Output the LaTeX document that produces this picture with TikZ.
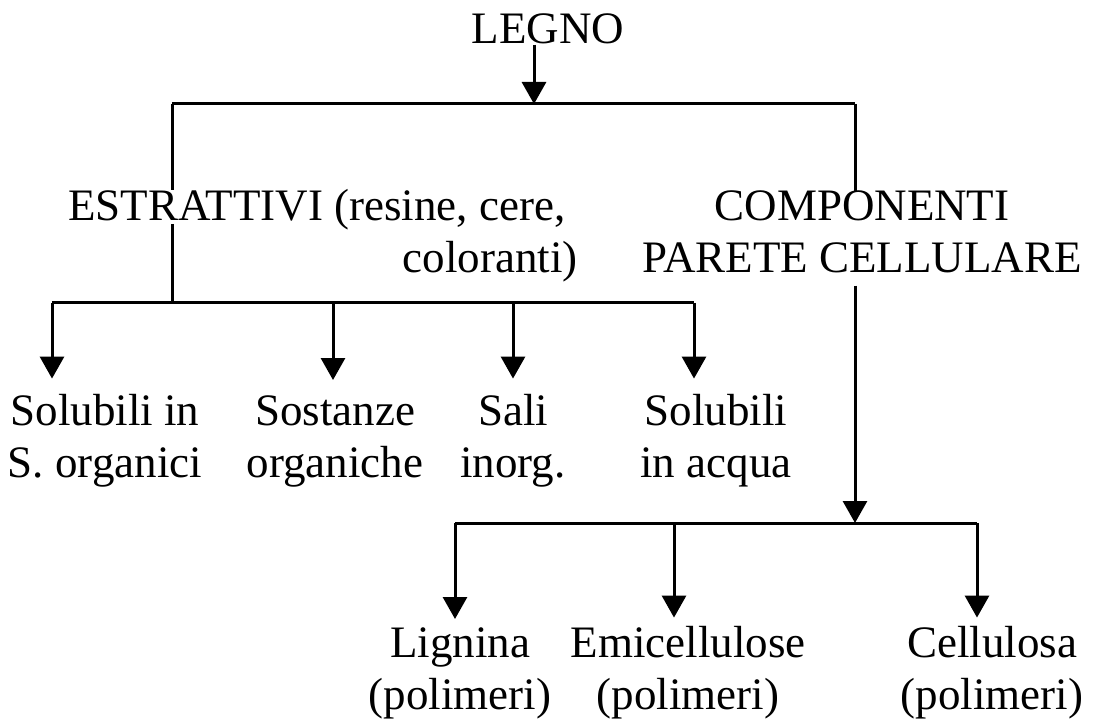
\documentclass[tikz,border=0pt]{standalone}
\usepackage{fontspec}
\setmainfont{Liberation Serif}
\usetikzlibrary{arrows.meta}
\tikzset{
  %% plain text labels
  lbl/.style={
    font=\fontsize{45}{52}\selectfont,
    align=center, inner sep=0pt, anchor=base
  },
  %% branch lines and arrows
  bar/.style={line width=3pt},
  arr/.style={bar, -{Triangle[length=22pt, width=24pt]}}
}

\begin{document}
\begin{tikzpicture}[x=1pt, y=-1pt]
\useasboundingbox (0,0) rectangle (1093,719);

%% ═══════════════════════════════════════
%%  LABELS  (base = last line)
%% ═══════════════════════════════════════

\node[lbl] (legno) at (548,44) {LEGNO};

\node[lbl, anchor=base west, align=right] (estr) at (68,273) {
  ESTRATTIVI (resine, cere,\\
  coloranti)\hspace*{-12pt}
};
\node[lbl] (comp) at (862,273) {
  COMPONENTI\\
  PARETE CELLULARE
};

\node[lbl] (sol1)  at (105,477) {Solubili in\\S. organici};
\node[lbl] (sost)  at (335,477) {Sostanze\\organiche};
\node[lbl] (sali)  at (513,477) {Sali\\inorg.};
\node[lbl] (acqua) at (716,477) {Solubili\\in acqua};

\node[lbl] (lig) at (460,709) {Lignina\\(polimeri)};
\node[lbl] (emi) at (688,709) {Emicellulose\\(polimeri)};
\node[lbl] (cel) at (992,709) {Cellulosa\\(polimeri)};

%% ═══════════════════════════════════════
%%  BARS
%% ═══════════════════════════════════════

%% LEGNO -> two branches
\coordinate (top)  at (534,104);
\coordinate (topL) at (172,104);
\coordinate (topR) at (855,104);
\draw[arr] (legno.south -| top) -- (top);
\draw[bar] (topL) -- (topR);
\draw[bar] (topL) -- (estr.north -| topL);
\draw[bar] (topR) -- (comp.north -| topR);

%% extractives
\coordinate (estrB) at (172,224);
\coordinate (d1) at (52,303);
\coordinate (d2) at (333,303);
\coordinate (d3) at (513,303);
\coordinate (d4) at (694,303);
\draw[bar] (estrB) -- (d1 -| estrB);
\draw[bar] (d1) -- (d4);
\foreach \d/\n in {d1/sol1, d2/sost, d3/sali, d4/acqua}
  \draw[arr, shorten >=15pt] (\d) -- (\n.north -| \d);

%% cell wall components
\coordinate (w1) at (455,523);
\coordinate (w2) at (674,523);
\coordinate (w3) at (977,523);
\draw[arr, shorten <=12pt] (comp.south -| topR) -- (w1 -| topR);
\draw[bar] (w1) -- (w3);
\foreach \d/\n in {w1/lig, w2/emi, w3/cel}
  \draw[arr, shorten >=8pt] (\d) -- (\n.north -| \d);

\end{tikzpicture}
\end{document}
